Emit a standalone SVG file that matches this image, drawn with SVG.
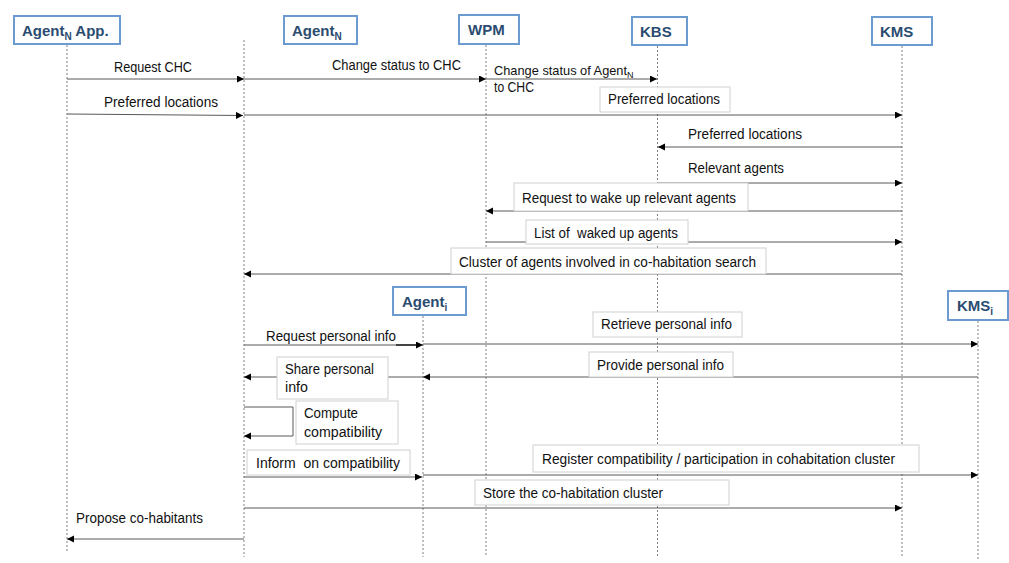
<svg xmlns="http://www.w3.org/2000/svg" width="1009" height="563" viewBox="0 0 1009 563">
<style>
.hdr{fill:#fff;stroke:#6c9bd0;stroke-width:2}
.ht{font-family:"Liberation Sans",Arial,sans-serif;font-weight:bold;font-size:15px;fill:#2b4c70}
.life{stroke:#808080;stroke-width:1;stroke-dasharray:2 2;fill:none}
.msg{stroke:#595959;stroke-width:1;fill:none;marker-end:url(#ah)}
.lb{fill:#fff;stroke:#d0d0d0;stroke-width:1}
.t{font-family:"Liberation Sans",Arial,sans-serif;font-size:14px;fill:#111;white-space:pre}
</style>
<defs>
<marker id="ah" markerUnits="userSpaceOnUse" markerWidth="8" markerHeight="8" refX="7" refY="3.5" orient="auto">
<path d="M0,0 L7,3.5 L0,7 z" fill="#000"/>
</marker>
</defs>
<rect width="1009" height="563" fill="#fff"/>

<g id="lifelines">
<line class="life" x1="67" y1="45" x2="67" y2="551"/>
<line class="life" x1="244" y1="40" x2="244" y2="557"/>
<line class="life" x1="486" y1="45" x2="486" y2="557"/>
<line class="life" x1="657.5" y1="46" x2="657.5" y2="557"/>
<line class="life" x1="902" y1="46" x2="902" y2="557"/>
<line class="life" x1="423" y1="316" x2="423" y2="557"/>
<line class="life" x1="978" y1="321" x2="978" y2="560"/>
</g>

<g id="node-agentN-app"><rect class="hdr" x="14" y="16" width="106" height="28"/><text class="ht" x="22" y="36">Agent<tspan font-size="10" dy="4">N</tspan><tspan dy="-4"> App.</tspan></text></g>
<g id="node-agentN"><rect class="hdr" x="284" y="16" width="73" height="28"/><text class="ht" x="292" y="36">Agent<tspan font-size="10" dy="4">N</tspan></text></g>
<g id="node-wpm"><rect class="hdr" x="459" y="15" width="60" height="29"/><text class="ht" x="468" y="35">WPM</text></g>
<g id="node-kbs"><rect class="hdr" x="632" y="17" width="55" height="28"/><text class="ht" x="640" y="37">KBS</text></g>
<g id="node-kms"><rect class="hdr" x="872" y="17" width="60" height="28"/><text class="ht" x="880" y="37">KMS</text></g>
<g id="node-agenti"><rect class="hdr" x="393" y="287" width="73" height="28"/><text class="ht" x="402" y="307">Agent<tspan font-size="10" dy="4">i</tspan></text></g>
<g id="node-kmsi"><rect class="hdr" x="948" y="291" width="60" height="29"/><text class="ht" x="957" y="311">KMS<tspan font-size="10" dy="4">i</tspan></text></g>

<g id="connectors">
<line class="msg" x1="67" y1="79" x2="244" y2="79"/>
<line class="msg" x1="244" y1="79" x2="486" y2="79"/>
<line class="msg" x1="486" y1="79" x2="657" y2="79"/>
<line class="msg" x1="67" y1="114" x2="243" y2="115.5"/>
<line class="msg" x1="244" y1="115" x2="902" y2="115"/>
<line class="msg" x1="902" y1="147" x2="658" y2="147"/>
<line class="msg" x1="658" y1="183" x2="902" y2="183"/>
<line class="msg" x1="902" y1="211" x2="486" y2="211"/>
<line class="msg" x1="486" y1="242" x2="902" y2="242"/>
<line class="msg" x1="902" y1="274" x2="244" y2="274"/>
<line class="msg" x1="244" y1="345" x2="423" y2="345"/>
<line x1="396" y1="345" x2="416" y2="345" stroke="#444" stroke-width="2"/>
<line class="msg" x1="423" y1="344" x2="978" y2="344"/>
<line class="msg" x1="978" y1="377" x2="423" y2="377"/>
<line class="msg" x1="423" y1="377" x2="244" y2="377"/>
<path class="msg" d="M244,407 H293 V436 H244"/>
<line class="msg" x1="244" y1="477" x2="422" y2="477"/>
<line class="msg" x1="423" y1="475" x2="978" y2="475"/>
<line class="msg" x1="244" y1="508" x2="902" y2="508"/>
<line class="msg" x1="244" y1="539" x2="67" y2="539"/>
</g>

<g id="labels">
<text class="t" x="114" y="72" textLength="78" lengthAdjust="spacingAndGlyphs">Request CHC</text>
<text class="t" x="332" y="70" textLength="129" lengthAdjust="spacingAndGlyphs">Change status to CHC</text>
<text class="t" x="494" y="75" style="font-size:12.8px">Change status of Agent<tspan dy="3" style="font-size:9px">N</tspan></text>
<text class="t" x="494" y="92" textLength="40" lengthAdjust="spacingAndGlyphs">to CHC</text>
<text class="t" x="104" y="107" textLength="114" lengthAdjust="spacingAndGlyphs">Preferred locations</text>
<rect class="lb" x="600" y="87" width="130" height="25"/>
<text class="t" x="608" y="104" textLength="112" lengthAdjust="spacingAndGlyphs">Preferred locations</text>
<text class="t" x="688" y="139" textLength="114" lengthAdjust="spacingAndGlyphs">Preferred locations</text>
<text class="t" x="688" y="173" textLength="96" lengthAdjust="spacingAndGlyphs">Relevant agents</text>
<rect class="lb" x="514" y="183" width="234" height="28"/>
<text class="t" x="522" y="203" textLength="214" lengthAdjust="spacingAndGlyphs">Request to wake up relevant agents</text>
<rect class="lb" x="526" y="220" width="162" height="24"/>
<text class="t" x="534" y="238" textLength="144" lengthAdjust="spacingAndGlyphs">List of  waked up agents</text>
<rect class="lb" x="451" y="248" width="315" height="26"/>
<text class="t" x="459" y="267" textLength="297" lengthAdjust="spacingAndGlyphs">Cluster of agents involved in co-habitation search</text>
<text class="t" x="266" y="341" textLength="130" lengthAdjust="spacingAndGlyphs">Request personal info</text>
<rect class="lb" x="593" y="312" width="149" height="25"/>
<text class="t" x="601" y="329" textLength="131" lengthAdjust="spacingAndGlyphs">Retrieve personal info</text>
<rect class="lb" x="589" y="352" width="144" height="25"/>
<text class="t" x="597" y="370" textLength="127" lengthAdjust="spacingAndGlyphs">Provide personal info</text>
<rect class="lb" x="277" y="357" width="111" height="42"/>
<text class="t" x="285" y="374" textLength="89" lengthAdjust="spacingAndGlyphs">Share personal</text>
<text class="t" x="285" y="392" textLength="23" lengthAdjust="spacingAndGlyphs">info</text>
<rect class="lb" x="296" y="401" width="102" height="43"/>
<text class="t" x="304" y="418" textLength="54" lengthAdjust="spacingAndGlyphs">Compute</text>
<text class="t" x="304" y="437" textLength="78" lengthAdjust="spacingAndGlyphs">compatibility</text>
<rect class="lb" x="247" y="450" width="163" height="25"/>
<text class="t" x="256" y="468" textLength="144" lengthAdjust="spacingAndGlyphs">Inform  on compatibility</text>
<rect class="lb" x="533" y="445" width="386" height="27"/>
<text class="t" x="542" y="464" textLength="353" lengthAdjust="spacingAndGlyphs">Register compatibility / participation in cohabitation cluster</text>
<rect class="lb" x="475" y="480" width="254" height="25"/>
<text class="t" x="483" y="498" textLength="180" lengthAdjust="spacingAndGlyphs">Store the co-habitation cluster</text>
<text class="t" x="76" y="523" textLength="127" lengthAdjust="spacingAndGlyphs">Propose co-habitants</text>
</g>
</svg>
